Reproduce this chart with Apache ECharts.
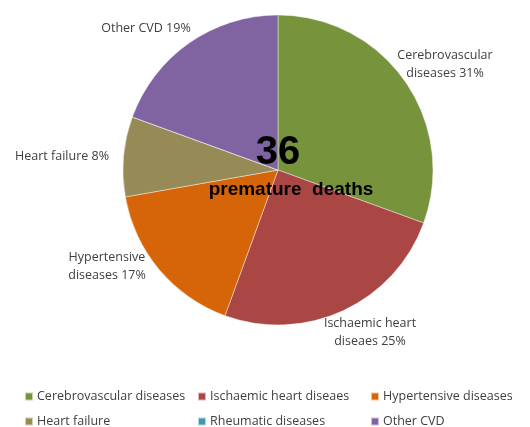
<!DOCTYPE html>
<html><head><meta charset="utf-8">
<script src="https://cdn.jsdelivr.net/npm/echarts@6/dist/echarts.min.js"></script>
<style>html,body{margin:0;padding:0;background:#fff}#c{width:530px;height:427px}</style>
</head><body><div id="c"></div>
<script>
const categories = ['Cerebrovascular diseases','Ischaemic heart diseaes','Hypertensive diseases','Heart failure','Rheumatic diseases','Other CVD'];
const labelNames = ['Cerebrovascular\ndiseases','Ischaemic heart\ndiseaes','Hypertensive\ndiseases','Heart failure','Rheumatic diseases','Other CVD'];
const deaths = [11, 9, 6, 3, 0, 7];
const totalLabel = '36';
const subLabel = 'premature  deaths';

const colors = ['#77933C','#AA4644','#D6650A','#968A56','#4198AF','#8064A2'];
const labelPos = [[445,64],[370,332],[107,266],[62,156],null,[146,28]];
const legendPos = [[24,390],[197,390],[370,390],[24,415],[197,415],[370,415]];
const font = '"Open Sans", "Liberation Sans", sans-serif';

const chart = echarts.init(document.getElementById('c'), null, {renderer:'canvas'});
const data = categories.map((c,i)=>({
  name:c, value:deaths[i],
  itemStyle:{color:colors[i]},
  label:{show: deaths[i] > 0}
}));
chart.setOption({
  animation:false,
  color:colors,
  legend: categories.map((c,i)=>({
    orient:'horizontal', left:legendPos[i][0], top:legendPos[i][1],
    itemWidth:8, itemHeight:8, icon:'rect', padding:0, itemGap:0,
    textStyle:{fontFamily:font, fontSize:12.5, color:'#404040', padding:[0,0,0,-1]},
    data:[c]
  })),
  graphic:[
    {type:'text', x:278, y:153, z:100, silent:true, style:{text:totalLabel, font:'bold 40px "Liberation Sans", Arial, sans-serif', fill:'#000', align:'center', verticalAlign:'middle'}},
    {type:'text', x:291, y:190, z:100, silent:true, style:{text:subLabel, font:'bold 19px "Liberation Sans", Arial, sans-serif', fill:'#000', align:'center', verticalAlign:'middle'}}
  ],
  series:[{
    type:'pie', center:[278,170], radius:155, startAngle:90, clockwise:true,
    percentPrecision:0, z:2,
    data:data,
    itemStyle:{borderColor:'rgba(255,255,255,0.6)', borderWidth:0.7},
    label:{
      position:'outside', fontFamily:font, fontSize:12.5, color:'#404040', lineHeight:18,
      overflow:'none', alignTo:'none',
      formatter:p=>labelNames[p.dataIndex]+' '+p.percent+'%'
    },
    labelLine:{show:false},
    labelLayout:function(params){
      const p = labelPos[params.dataIndex];
      if(!p) return {};
      return {x:p[0], y:p[1], align:'center', verticalAlign:'middle'};
    },
    emphasis:{disabled:true}
  }]
});
</script></body></html>
